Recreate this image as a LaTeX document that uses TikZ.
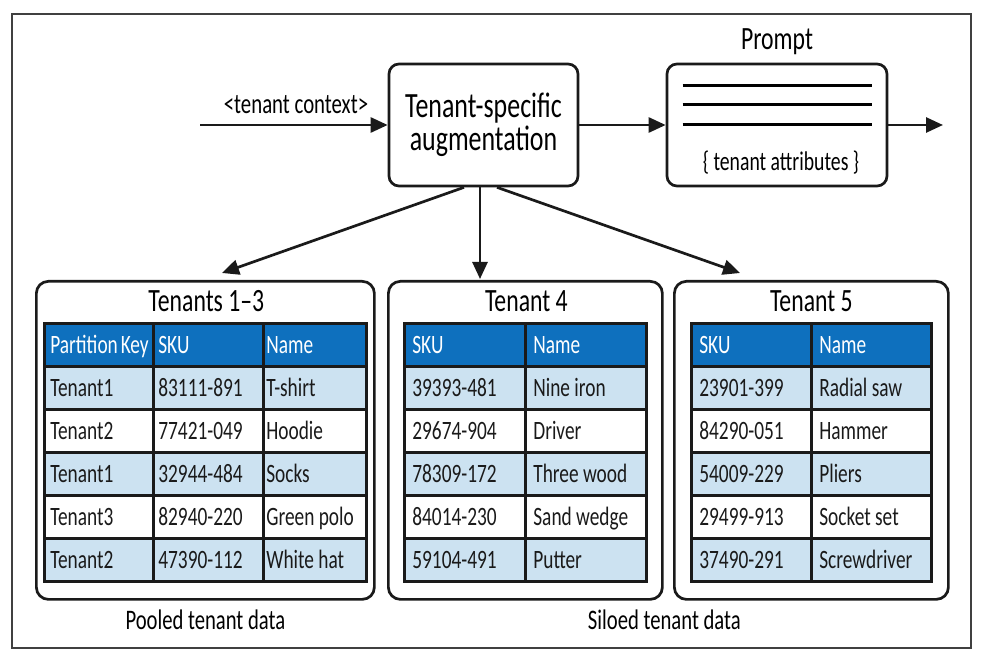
\documentclass[tikz,border=0pt]{standalone}
\usepackage{fontspec}
\setmainfont{Carlito}[FakeStretch=0.73]
\usepackage{xcolor}
\usepackage{tikz}
\usetikzlibrary{matrix}
\usetikzlibrary{positioning}
\usetikzlibrary{arrows.meta}
\usetikzlibrary{math}
\usetikzlibrary{calc}

\definecolor{ink}{RGB}{26,26,26}
\definecolor{hdrblue}{RGB}{14,112,190}
\definecolor{rowblue}{RGB}{204,226,241}

\newcommand{\augfont}{\fontsize{35.5}{33}\selectfont}
\newcommand{\titlefont}{\fontsize{32.5}{34}\selectfont}
\newcommand{\tabfont}{\fontsize{26.5}{28}\selectfont}
\newcommand{\ctxfont}{\fontsize{28.5}{30}\selectfont}
\newcommand{\attrfont}{\fontsize{27}{29}\selectfont}
\newcommand{\capfont}{\fontsize{28.3}{30}\selectfont}

\begin{document}
\begin{tikzpicture}[x=1pt,y=-1pt,line width=2.7pt,
  box/.style={draw=ink, rounded corners=10pt, inner sep=0pt},
  group/.style={draw=ink, rounded corners=12pt, anchor=north west, inner sep=0pt},
  flow/.style={draw=ink, -{Triangle[length=17pt,width=15pt]}},
  cell/.style={draw=ink, outer sep=0pt, inner xsep=6pt, inner ysep=0pt,
    minimum height=43pt, align=flush left, text height=20pt, text depth=3pt,
    font=\tabfont, text=ink, anchor=center},
  tbl/.style={matrix of nodes, inner sep=0pt, outer sep=0pt,
    row sep=-\pgflinewidth, column sep=-\pgflinewidth,
    anchor=north west, nodes={cell},
    row 1/.style={nodes={fill=hdrblue, text=white}},
    row 2/.style={nodes={fill=rowblue}},
    row 4/.style={nodes={fill=rowblue}},
    row 6/.style={nodes={fill=rowblue}}}]

  \useasboundingbox (0,0) rectangle (982,660);

  \tikzmath{
    \groupw = 274; % width of a siloed tenant box
    \grouph = 318; % height of every tenant box
    \capgap = 29;  % caption baseline below the tenant boxes
  }

  % outer frame
  \draw[line width=1.4pt, black!75] (12,14) rectangle (971,648);

  % augmentation and prompt
  \node[box, minimum width=189pt, minimum height=122pt, align=center, font=\augfont]
    (aug) at (483.5,125) {Tenant-specific\\augmentation};
  \node[box, minimum width=220pt, minimum height=122pt] (prompt) at (777,125) {};

  \draw[line width=2.4pt] ($(prompt.north west)+(17,23)$) -- ($(prompt.north east)+(-16,23)$);
  \draw[line width=2.4pt] ($(prompt.north west)+(17,42)$) -- ($(prompt.north east)+(-16,42)$);
  \draw[line width=2.4pt] ($(prompt.north west)+(17,62)$) -- ($(prompt.north east)+(-16,62)$);

  \node[font=\attrfont, anchor=base] (attrs) at ($(prompt.south)+(4,-17)$)
    {\{ tenant attributes \}};
  \node[font=\titlefont, anchor=base] (ptitle) at ($(prompt.north)+(0,-13)$) {Prompt};

  % context in, prompt out
  \coordinate (ctx) at (200,125);
  \coordinate (out) at (943,125);
  \draw[flow] (ctx) -- (aug.west);
  \node[font=\ctxfont, anchor=base] (ctxlabel) at (296,114) {<tenant context>};
  \draw[flow] (aug.east) -- (prompt.west);
  \draw[flow] (prompt.east) -- (out);

  % tenant boxes
  \node[group, minimum width=338pt, minimum height=\grouph pt] (pooled) at (35,280) {};
  \node[group, minimum width=\groupw pt, minimum height=\grouph pt] (siloA) at (387,280) {};
  \node[group, minimum width=\groupw pt, minimum height=\grouph pt] (siloB) at (673,280) {};

  \node[font=\titlefont, anchor=base] (pooledtitle) at ($(pooled.north)+(1,31)$) {Tenants 1–3};
  \node[font=\titlefont, anchor=base] (siloAtitle) at ($(siloA.north)+(1,31)$) {Tenant 4};
  \node[font=\titlefont, anchor=base] (siloBtitle) at ($(siloB.north)+(0,31)$) {Tenant 5};

  % arrows down to the data
  \coordinate (pooltip) at (222,273);
  \coordinate (siloAtip) at (480,279);
  \coordinate (siloBtip) at (740,273);
  \draw[flow] ([xshift=-19.5pt]aug.south) -- (pooltip);
  \draw[flow] ([xshift=-3.5pt]aug.south) -- (siloAtip);
  \draw[flow] ([xshift=13.5pt]aug.south) -- (siloBtip);

  % pooled table
  \matrix[tbl,
    column 1/.style={nodes={text width=97pt}},
    column 2/.style={nodes={inner xsep=5pt, text width=100pt}},
    column 3/.style={nodes={inner xsep=3pt, text width=97pt}}]
    (pooltab) at (43,322) {
    Partition~Key & SKU       & Name        \\
    Tenant1       & 83111-891 & T-shirt     \\
    Tenant2       & 77421-049 & Hoodie      \\
    Tenant1       & 32944-484 & Socks       \\
    Tenant3       & 82940-220 & Green~polo  \\
    Tenant2       & 47390-112 & White~hat   \\
  };

  % siloed tables
  \matrix[tbl, nodes={inner xsep=8pt, text width=105pt}] (siloAtab) at (403,322) {
    SKU       & Name        \\
    39393-481 & Nine~iron   \\
    29674-904 & Driver      \\
    78309-172 & Three~wood  \\
    84014-230 & Sand~wedge  \\
    59104-491 & Putter      \\
  };

  \matrix[tbl, nodes={inner xsep=8pt, text width=104pt}] (siloBtab) at (690,322) {
    SKU       & Name        \\
    23901-399 & Radial~saw  \\
    84290-051 & Hammer      \\
    54009-229 & Pliers      \\
    29499-913 & Socket~set  \\
    37490-291 & Screwdriver \\
  };

  % captions
  \node[font=\capfont, anchor=base] (pooledcap) at ($(pooled.south)+(0,\capgap)$) {Pooled tenant data};
  \node[font=\capfont, anchor=base] (siloedcap)
    at ($(siloA.south)!0.5!(siloB.south)+(-4,\capgap)$) {Siloed tenant data};

\end{tikzpicture}
\end{document}
